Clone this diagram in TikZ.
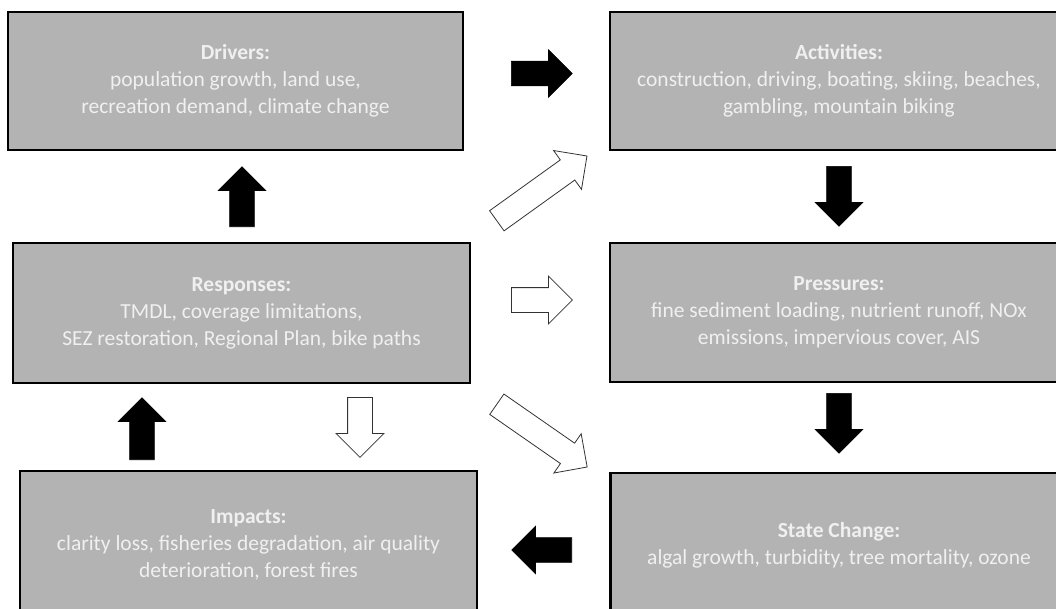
\documentclass[tikz,border=0pt]{standalone}
\usepackage{fontspec}
\setmainfont{Carlito}
\usepackage{xcolor}
\usetikzlibrary{shapes.arrows}
\definecolor{boxgray}{HTML}{B3B3B3}
\definecolor{boxtext}{HTML}{F0F0F0}

\begin{document}
\begin{tikzpicture}[x=1pt,y=-1pt,
  every node/.style={font=\fontsize{21.5}{27}\selectfont},
  box/.style={draw=black,line width=2.5pt,fill=boxgray,text=boxtext,
              align=center,inner sep=0pt},
  blk/.style={single arrow,draw=black,fill=black,line width=0.6pt,
              inner sep=12pt,single arrow head extend=11.5pt,
              anchor=tail,minimum height=61pt},
  hol/.style={blk,fill=white,draw=black!80,line width=0.8pt}
]
\useasboundingbox (0,0) rectangle (1056,608);

% left column
\node[box,minimum width=455pt,minimum height=138pt] (drv) at (235.5,81)
  {\textbf{Drivers:}\\population growth, land use,\\recreation demand, climate change};
\node[box,minimum width=457pt,minimum height=140pt] (rsp) at (241.5,313)
  {\textbf{Responses:}\\TMDL, coverage limitations,\\SEZ restoration, Regional Plan, bike paths};
\node[box,minimum width=457pt,minimum height=148pt] (imp) at (248.5,545)
  {\textbf{Impacts:}\\clarity loss, fisheries degradation, air quality\\deterioration, forest fires};

% right column
\node[box,minimum width=458pt,minimum height=138pt] (act) at (839,81)
  {\textbf{Activities:}\\construction, driving, boating, skiing, beaches,\\gambling, mountain biking};
\node[box,minimum width=458pt,minimum height=139pt] (prs) at (839,312.5)
  {\textbf{Pressures:}\\fine sediment loading, nutrient runoff, NOx\\emissions, impervious cover, AIS};
\node[box,minimum width=457pt,minimum height=144pt] (stc) at (839,545)
  {\textbf{State Change:}\\algal growth, turbidity, tree mortality, ozone};

% block arrows
\node[blk] (a1) at (511,73.5) {};
\node[blk,rotate=90,minimum height=60pt] (a2) at (242,227) {};
\node[blk,rotate=-90,minimum height=60pt] (a3) at (839,166) {};
\node[hol,rotate=35.7,minimum height=111pt] (a4) at (496.5,221) {};
\node[hol] (a5) at (511,300) {};
\node[hol,rotate=-34.8,minimum height=110pt] (a6) at (496.5,404) {};
\node[blk,rotate=-90,minimum height=60pt] (a7) at (839,393) {};
\node[blk,rotate=90,minimum height=62pt] (a8) at (142,460) {};
\node[hol,rotate=-90,minimum height=60pt] (a9) at (360,397) {};
\node[blk,rotate=180,minimum height=60pt] (a10) at (572,550) {};
\end{tikzpicture}
\end{document}
